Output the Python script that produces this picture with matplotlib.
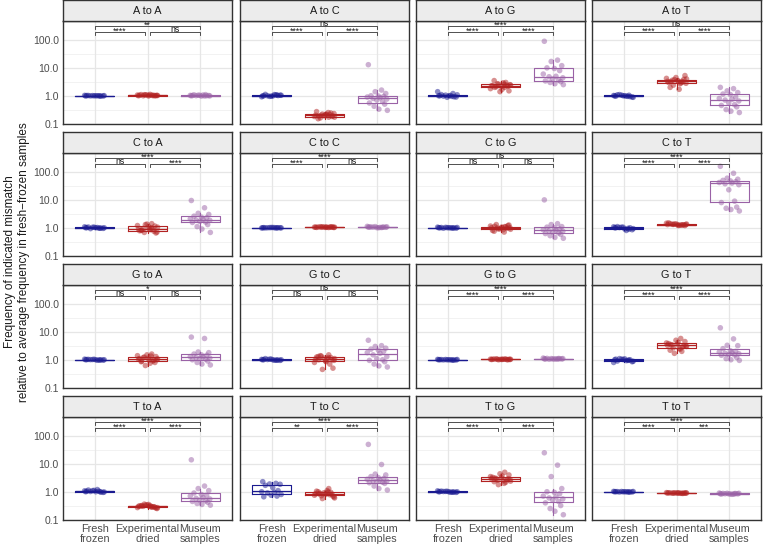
import matplotlib.pyplot as plt
import numpy as np

plt.rcParams['font.family'] = ['Liberation Sans', 'DejaVu Sans']

groups = ['Fresh\nfrozen', 'Experimental\ndried', 'Museum\nsamples']
colors = ['#1a1a90', '#b22222', '#9a62a6']

titles = ['A to A', 'A to C', 'A to G', 'A to T',
          'C to A', 'C to C', 'C to G', 'C to T',
          'G to A', 'G to C', 'G to G', 'G to T',
          'T to A', 'T to C', 'T to G', 'T to T']

# significance labels: (fresh vs dried, dried vs museum, fresh vs museum)
sig_labels = [('****', 'ns', '**'), ('****', '****', 'ns'), ('****', '****', '****'), ('****', '****', 'ns'),
              ('ns', '****', '****'), ('****', 'ns', '****'), ('ns', 'ns', 'ns'), ('****', '****', '****'),
              ('ns', 'ns', '*'), ('ns', 'ns', 'ns'), ('****', '****', '****'), ('****', '****', '****'),
              ('****', '****', '****'), ('**', '****', '****'), ('****', '****', '*'), ('****', '***', '****')]

# values per panel: [fresh frozen, experimental dried, museum samples]
A_to_A = [[0.98, 1.0, 1.01, 0.99, 1.02, 1.0, 0.97, 1.03, 1.0, 0.99, 1.01, 1.0, 0.98, 1.02],
          [1.0, 1.05, 1.08, 1.02, 1.1, 0.98, 1.04, 1.06, 1.12, 1.0, 1.03, 1.07, 1.01, 1.05, 0.99, 1.09, 1.04, 1.02],
          [1.0, 0.98, 1.05, 1.02, 1.08, 0.97, 1.0, 1.03, 1.06, 1.01, 0.99, 1.04, 1.1, 1.02]]
A_to_C = [[1.0, 1.08, 0.95, 1.05, 1.12, 0.98, 1.02, 0.92, 1.1, 1.0, 1.04, 0.96, 1.06, 0.99],
          [0.2, 0.17, 0.22, 0.19, 0.15, 0.21, 0.24, 0.18, 0.2, 0.16, 0.23, 0.19, 0.21, 0.27, 0.18, 0.2, 0.22, 0.17, 0.19, 0.25],
          [13.0, 1.6, 1.4, 1.2, 1.0, 0.98, 0.95, 0.9, 0.85, 0.8, 0.76, 0.7, 0.62, 0.55, 0.5, 0.42, 0.33, 0.3]]
A_to_G = [[1.0, 0.95, 1.05, 0.9, 1.1, 1.0, 0.92, 1.4, 1.02, 0.97, 1.08, 0.88, 1.2, 1.0],
          [2.3, 2.0, 2.6, 1.5, 3.5, 2.2, 2.4, 1.8, 2.9, 2.1, 2.5, 1.4, 3.0, 2.3, 2.2, 2.7, 1.7, 2.4, 2.0, 2.6],
          [90.0, 19.0, 17.0, 12.0, 10.0, 9.5, 8.0, 6.0, 5.0, 4.8, 4.4, 4.0, 3.6, 3.4, 3.2, 3.0, 2.7, 2.5]]
A_to_T = [[1.0, 0.95, 1.05, 0.9, 1.08, 1.0, 0.93, 1.02, 0.97, 1.1, 0.88, 1.0, 1.04, 0.96],
          [3.3, 2.9, 3.8, 5.3, 2.0, 3.5, 3.1, 4.2, 1.7, 3.6, 2.8, 4.5, 3.3, 3.0, 3.9, 2.4, 3.4, 4.0, 3.2, 2.7],
          [2.0, 1.8, 1.5, 1.3, 1.15, 1.1, 0.9, 0.8, 0.75, 0.7, 0.65, 0.55, 0.48, 0.45, 0.4, 0.32, 0.28, 0.25]]
C_to_A = [[1.0, 0.97, 1.04, 0.95, 1.06, 1.0, 0.98, 1.08, 1.02, 0.93, 1.0, 1.05, 0.96, 1.01],
          [0.9, 1.4, 1.3, 0.65, 0.8, 1.1, 0.75, 1.2, 0.85, 0.95, 0.7, 1.35, 0.88, 0.78, 1.15, 0.68, 0.92, 1.05, 0.82, 1.0],
          [9.5, 5.2, 3.3, 3.0, 2.6, 2.4, 2.3, 2.1, 2.0, 1.9, 1.85, 1.7, 1.6, 1.55, 1.3, 1.1, 0.9, 0.68]]
C_to_C = [[1.0, 0.98, 1.01, 1.0, 0.99, 1.02, 1.0, 0.98, 1.01, 1.0, 0.99, 1.02, 1.0, 1.01],
          [1.05, 1.02, 1.08, 1.04, 1.06, 1.03, 1.07, 1.05, 1.04, 1.09, 1.02, 1.06, 1.05, 1.03, 1.08, 1.04, 1.06, 1.05],
          [1.05, 1.02, 1.1, 1.04, 1.07, 1.0, 1.06, 1.12, 1.03, 1.05, 1.08, 1.01, 1.04, 1.06]]
C_to_G = [[1.0, 0.98, 1.03, 0.97, 1.02, 1.0, 0.99, 1.05, 1.0, 0.96, 1.02, 1.01, 0.98, 1.0],
          [1.0, 1.1, 0.9, 1.25, 0.75, 1.05, 0.95, 1.15, 0.85, 1.3, 1.0, 0.92, 1.08, 0.8, 1.2, 0.98, 1.02, 0.88, 1.12, 0.7],
          [10.0, 1.4, 1.3, 1.1, 1.05, 1.0, 0.9, 0.85, 0.82, 0.78, 0.75, 0.7, 0.65, 0.62, 0.58, 0.52, 0.45, 0.42]]
C_to_T = [[1.0, 0.95, 1.05, 0.85, 1.1, 0.9, 1.0, 1.08, 0.8, 1.02, 0.93, 1.05, 0.88, 1.0],
          [1.3, 1.25, 1.35, 1.2, 1.4, 1.3, 1.28, 1.45, 1.22, 1.33, 1.3, 1.38, 1.25, 1.5, 1.27, 1.32, 1.2, 1.36],
          [160.0, 90.0, 60.0, 55.0, 50.0, 48.0, 45.0, 42.0, 40.0, 38.0, 35.0, 23.0, 9.0, 8.0, 5.5, 5.0, 4.5, 4.0]]
G_to_A = [[1.0, 0.98, 1.02, 0.97, 1.03, 1.0, 0.99, 1.05, 0.96, 1.01, 1.0, 1.04, 0.98, 1.02],
          [1.05, 1.6, 0.62, 1.3, 0.85, 1.15, 0.95, 1.4, 0.75, 1.2, 1.0, 1.5, 0.9, 1.1, 0.8, 1.25, 0.98, 1.08, 0.88, 1.35],
          [6.5, 5.8, 1.9, 1.8, 1.6, 1.5, 1.45, 1.3, 1.25, 1.2, 1.15, 1.1, 1.05, 1.0, 0.9, 0.8, 0.7, 0.65]]
G_to_C = [[1.0, 0.97, 1.05, 0.95, 1.1, 1.0, 0.98, 1.03, 0.96, 1.02, 1.0, 1.06, 0.97, 1.01],
          [1.05, 1.5, 0.45, 0.5, 1.3, 0.9, 1.2, 0.8, 1.1, 1.4, 0.95, 1.15, 0.7, 1.25, 1.0, 1.35, 0.85, 1.1, 1.0, 1.2],
          [5.0, 3.2, 3.0, 2.6, 2.4, 2.2, 2.0, 1.8, 1.7, 1.5, 1.3, 1.1, 1.0, 0.95, 0.85, 0.7, 0.6, 0.55]]
G_to_G = [[1.0, 0.98, 1.02, 0.99, 1.01, 1.0, 0.97, 1.03, 1.0, 0.99, 1.02, 1.0, 0.98, 1.01],
          [1.02, 1.05, 1.0, 1.04, 1.06, 1.03, 1.01, 1.05, 1.04, 1.07, 1.02, 1.03, 1.06, 1.04, 1.0, 1.05, 1.03, 1.04],
          [1.08, 1.05, 1.1, 1.07, 1.12, 1.06, 1.09, 1.15, 1.08, 1.04, 1.1, 1.07, 1.11, 1.06]]
G_to_T = [[1.0, 0.95, 1.05, 0.85, 0.9, 1.08, 1.0, 0.8, 0.93, 1.1, 0.88, 1.02, 0.97, 1.05],
          [3.3, 5.8, 1.7, 4.5, 2.2, 3.6, 2.9, 4.0, 2.5, 3.4, 3.1, 5.0, 2.0, 3.8, 3.2, 2.7, 4.2, 3.0, 3.5, 2.4],
          [14.0, 5.6, 3.3, 3.2, 2.5, 2.1, 2.0, 1.9, 1.8, 1.7, 1.65, 1.55, 1.5, 1.45, 1.2, 1.1, 1.0, 0.95]]
T_to_A = [[1.0, 1.05, 1.1, 0.95, 1.15, 1.0, 0.97, 1.08, 1.2, 1.02, 0.98, 1.12, 1.0, 1.05],
          [0.3, 0.28, 0.33, 0.26, 0.31, 0.35, 0.29, 0.27, 0.32, 0.3, 0.25, 0.34, 0.29, 0.31, 0.28, 0.36, 0.3, 0.27, 0.32, 0.29],
          [14.0, 1.6, 1.3, 1.1, 0.9, 0.8, 0.75, 0.7, 0.62, 0.58, 0.55, 0.5, 0.47, 0.45, 0.42, 0.38, 0.35, 0.33]]
T_to_C = [[2.3, 2.0, 1.9, 1.85, 1.7, 1.4, 1.1, 1.0, 0.95, 0.9, 0.8, 0.75, 0.7, 0.66],
          [0.85, 1.3, 0.57, 0.7, 1.0, 0.8, 0.95, 0.75, 1.1, 0.88, 0.65, 0.92, 0.78, 1.05, 0.82, 0.72, 0.9, 0.6, 0.85, 0.98],
          [50.0, 9.5, 4.3, 4.0, 3.5, 3.2, 3.0, 2.8, 2.6, 2.5, 2.4, 2.3, 2.2, 2.1, 2.0, 1.6, 1.3, 1.15]]
T_to_G = [[1.0, 0.97, 1.03, 0.95, 1.05, 1.0, 0.98, 1.08, 0.96, 1.02, 1.0, 1.04, 0.97, 1.01],
          [2.9, 5.0, 1.8, 4.0, 2.3, 3.2, 2.7, 3.5, 2.5, 3.0, 2.8, 4.4, 2.2, 3.3, 2.9, 2.6, 3.7, 2.4, 3.1, 2.0],
          [25.0, 9.0, 3.5, 1.3, 1.0, 0.95, 0.85, 0.7, 0.65, 0.6, 0.55, 0.5, 0.45, 0.4, 0.32, 0.25, 0.2, 0.15]]
T_to_T = [[1.0, 0.98, 1.02, 0.99, 1.01, 1.0, 0.97, 1.03, 1.0, 0.98, 1.02, 1.0, 0.99, 1.01],
          [0.9, 0.88, 0.92, 0.89, 0.91, 0.9, 0.87, 0.93, 0.9, 0.89, 0.91, 0.9, 0.88, 0.92, 0.9, 0.89, 0.91, 0.9],
          [0.85, 0.82, 0.88, 0.84, 0.87, 0.83, 0.86, 0.9, 0.81, 0.85, 0.88, 0.84, 0.86, 0.83]]

panels = [A_to_A, A_to_C, A_to_G, A_to_T, C_to_A, C_to_C, C_to_G, C_to_T,
          G_to_A, G_to_C, G_to_G, G_to_T, T_to_A, T_to_C, T_to_G, T_to_T]

# fixed jitter pattern for the points
jitter = np.array([-0.17, 0.08, -0.04, 0.16, -0.12, 0.02, 0.12, -0.19, 0.05, -0.08,
                   0.18, -0.01, 0.1, -0.15, 0.14, -0.06, 0.03, 0.19, -0.11, 0.07])

W, H = 763, 547
fig = plt.figure(figsize=(W / 100, H / 100), dpi=100)

col_left = [63, 240, 416, 592]
row_top = [21, 153, 285, 417]
pw, ph, sh = 169, 103, 21
grid_c = '#e6e6e6'
text_c = '#4d4d4d'

for k, data in enumerate(panels):
    r, c = divmod(k, 4)
    x0, y0 = col_left[c], row_top[r]
    ax = fig.add_axes([x0 / W, 1 - (y0 + ph) / H, pw / W, ph / H])
    st = fig.add_axes([x0 / W, 1 - y0 / H, pw / W, sh / H])

    # strip
    st.set_facecolor('#ececec')
    st.set_xticks([])
    st.set_yticks([])
    for s in st.spines.values():
        s.set_color('#333333')
        s.set_linewidth(1.0)
    st.text(0.5, 0.47, titles[k], ha='center', va='center', fontsize=7.8, color='#1a1a1a',
            transform=st.transAxes)

    ax.set_yscale('log')
    ax.set_ylim(0.097, 480)
    ax.set_xlim(0.4, 3.6)

    # grid
    for v in [0.1, 1, 10, 100]:
        ax.axhline(v, color=grid_c, lw=0.9, zorder=0)
    for v in [10 ** -0.5, 10 ** 0.5, 10 ** 1.5]:
        ax.axhline(v, color='#f0f0f0', lw=0.6, zorder=0)
    for v in [1, 2, 3]:
        ax.axvline(v, color=grid_c, lw=0.9, zorder=0)

    for i, vals in enumerate(data):
        col = colors[i]
        ax.boxplot([vals], positions=[i + 1], widths=0.75, showfliers=False,
                   patch_artist=False,
                   boxprops=dict(color=col, lw=0.8),
                   medianprops=dict(color=col, lw=0.9),
                   whiskerprops=dict(color=col, lw=0.8),
                   capprops=dict(lw=0), manage_ticks=False)
        xs = i + 1 + jitter[:len(vals)]
        ax.scatter(xs, vals, s=16, color=col, alpha=0.5, edgecolors='none', zorder=3)

    # significance brackets
    s12, s23, s13 = sig_labels[k]
    for xa, xb, yb, lab in [(1, 1.95, 198, s12), (2.05, 3, 198, s23), (1, 3, 325, s13)]:
        yt = yb * 0.79
        ax.plot([xa, xa, xb, xb], [yt, yb, yb, yt], color='#333333', lw=0.6, zorder=4,
                clip_on=False)
        ytext = yb * 0.99 if lab == 'ns' else yb * 0.88
        ax.text((xa + xb) / 2, ytext, lab, ha='center', va='baseline', fontsize=6.3,
                color='#1a1a1a', zorder=5, clip_on=False)

    ax.set_xticks([1, 2, 3])
    ax.tick_params(length=0, pad=3)
    if r == 3:
        ax.set_xticklabels(groups, fontsize=7.8, color=text_c, linespacing=1.0)
    else:
        ax.set_xticklabels([])
    ax.set_yticks([0.1, 1, 10, 100])
    ax.minorticks_off()
    if c == 0:
        ax.set_yticklabels(['0.1', '1.0', '10.0', '100.0'], fontsize=7.5, color=text_c)
    else:
        ax.set_yticklabels([])
    for s in ax.spines.values():
        s.set_color('#333333')
        s.set_linewidth(1.0)

fig.text(17 / W, 1 - 262 / H,
         'Frequency of indicated mismatch\nrelative to average frequency in fresh\u2212frozen samples',
         rotation=90, ha='center', va='center', fontsize=8.5, color='#1a1a1a', linespacing=1.3)

fig.savefig('out.png', dpi=100)
